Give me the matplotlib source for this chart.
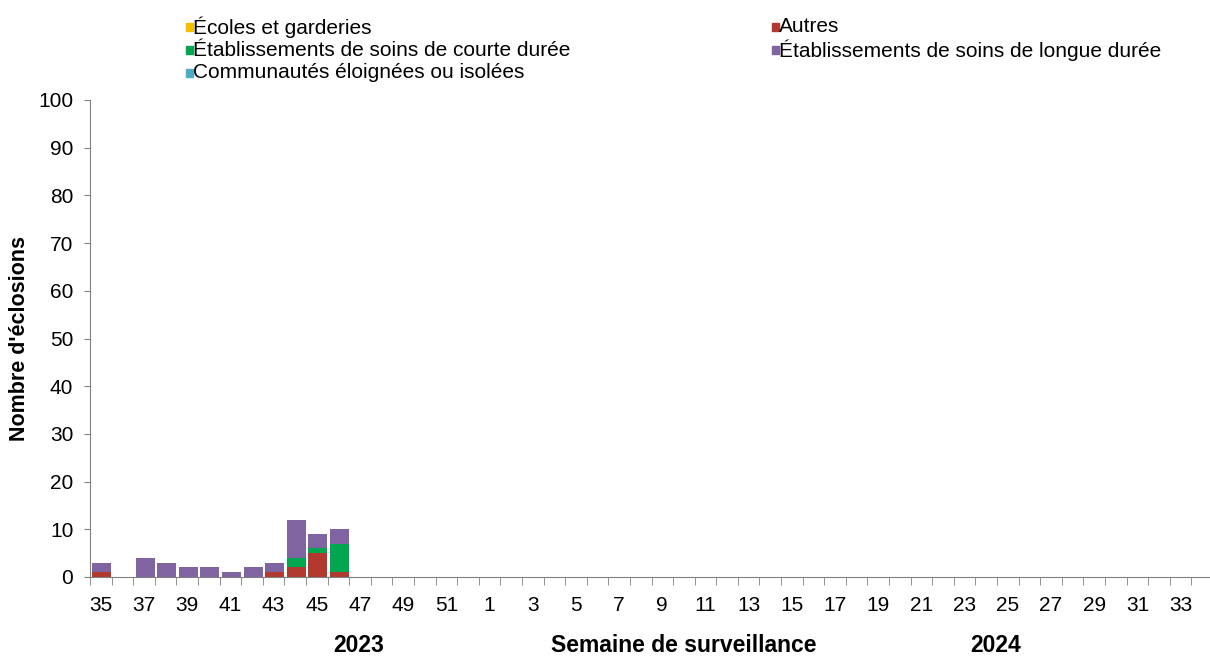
import matplotlib
matplotlib.use("Agg")
import matplotlib.pyplot as plt
from matplotlib.patches import Rectangle
import numpy as np

weeks = list(range(35, 53)) + list(range(1, 35))
n = len(weeks)
def series(d):
    return [d.get(i, 0) for i in range(n)]

# values by week index (0 = week 35 of 2023)
autres = series({0: 1, 8: 1, 9: 2, 10: 5, 11: 1})
courte = series({9: 2, 10: 1, 11: 6})
longue = series({0: 2, 2: 4, 3: 3, 4: 2, 5: 2, 6: 1, 7: 2, 8: 2, 9: 8, 10: 3, 11: 3})
ecoles = series({})
communautes = series({})

plt.rcParams['font.family'] = ['Liberation Sans', 'DejaVu Sans']
FS = 15

W, H = 1210, 656
fig = plt.figure(figsize=(W / 100, H / 100), dpi=100)
ax = fig.add_axes([90 / W, 1 - 577 / H, 1123 / W, 477 / H])

x = np.arange(n)
w = 0.88
cols = {'ecoles': '#F2C000', 'autres': '#B1392F', 'courte': '#00A650',
        'longue': '#8064A2', 'comm': '#4BACC6'}
bottom = np.zeros(n)
for key, vals in [('autres', autres), ('courte', courte), ('longue', longue),
                  ('ecoles', ecoles), ('comm', communautes)]:
    v = np.array(vals, dtype=float)
    ax.bar(x + 0.05, v, w, bottom=bottom, color=cols[key], linewidth=0)
    bottom += v

# legend drawn manually (two columns)
entries = [('ecoles', 'Écoles et garderies', 186, 27),
           ('courte', 'Établissements de soins de courte durée', 186, 50),
           ('comm', 'Communautés éloignées ou isolées', 186, 73),
           ('autres', 'Autres', 772, 27),
           ('longue', 'Établissements de soins de longue durée', 772, 50)]
for key, lab, px, py in entries:
    fig.patches.append(Rectangle((px / W, 1 - (py + 4) / H), 7 / W, 8 / H,
                                 transform=fig.transFigure, color=cols[key]))
    fig.text((px + 7) / W, 1 - py / H, lab, ha='left', va='center', fontsize=FS)

ax.set_xlim(-0.5, n - 0.5)
ax.set_ylim(0, 100)
ax.set_yticks(range(0, 101, 10))
ax.set_xticks(x[::2])
ax.set_xticklabels([str(weeks[i]) for i in range(0, n, 2)], fontsize=FS)
ax.set_xticks(np.arange(-0.5, n, 1), minor=True)
ax.tick_params(axis='x', which='major', length=0, pad=14)
ax.tick_params(axis='x', which='minor', length=6, color='#808080', direction='out')
ax.tick_params(axis='y', labelsize=FS, length=4, color='#808080', pad=8)
for s in ['top', 'right']:
    ax.spines[s].set_visible(False)
for s in ['left', 'bottom']:
    ax.spines[s].set_color('#808080')

ax.set_ylabel("Nombre d'éclosions", fontsize=15.5, fontweight='bold')
ax.yaxis.set_label_coords(-60 / 1123, 0.5)
fig.text(359 / W, 1 - 645 / H, '2023', ha='center', va='center', fontsize=16.5, fontweight='bold')
fig.text(684 / W, 1 - 645 / H, 'Semaine de surveillance', ha='center', va='center', fontsize=16.5, fontweight='bold')
fig.text(996 / W, 1 - 645 / H, '2024', ha='center', va='center', fontsize=16.5, fontweight='bold')

fig.savefig('out.png', dpi=100)
